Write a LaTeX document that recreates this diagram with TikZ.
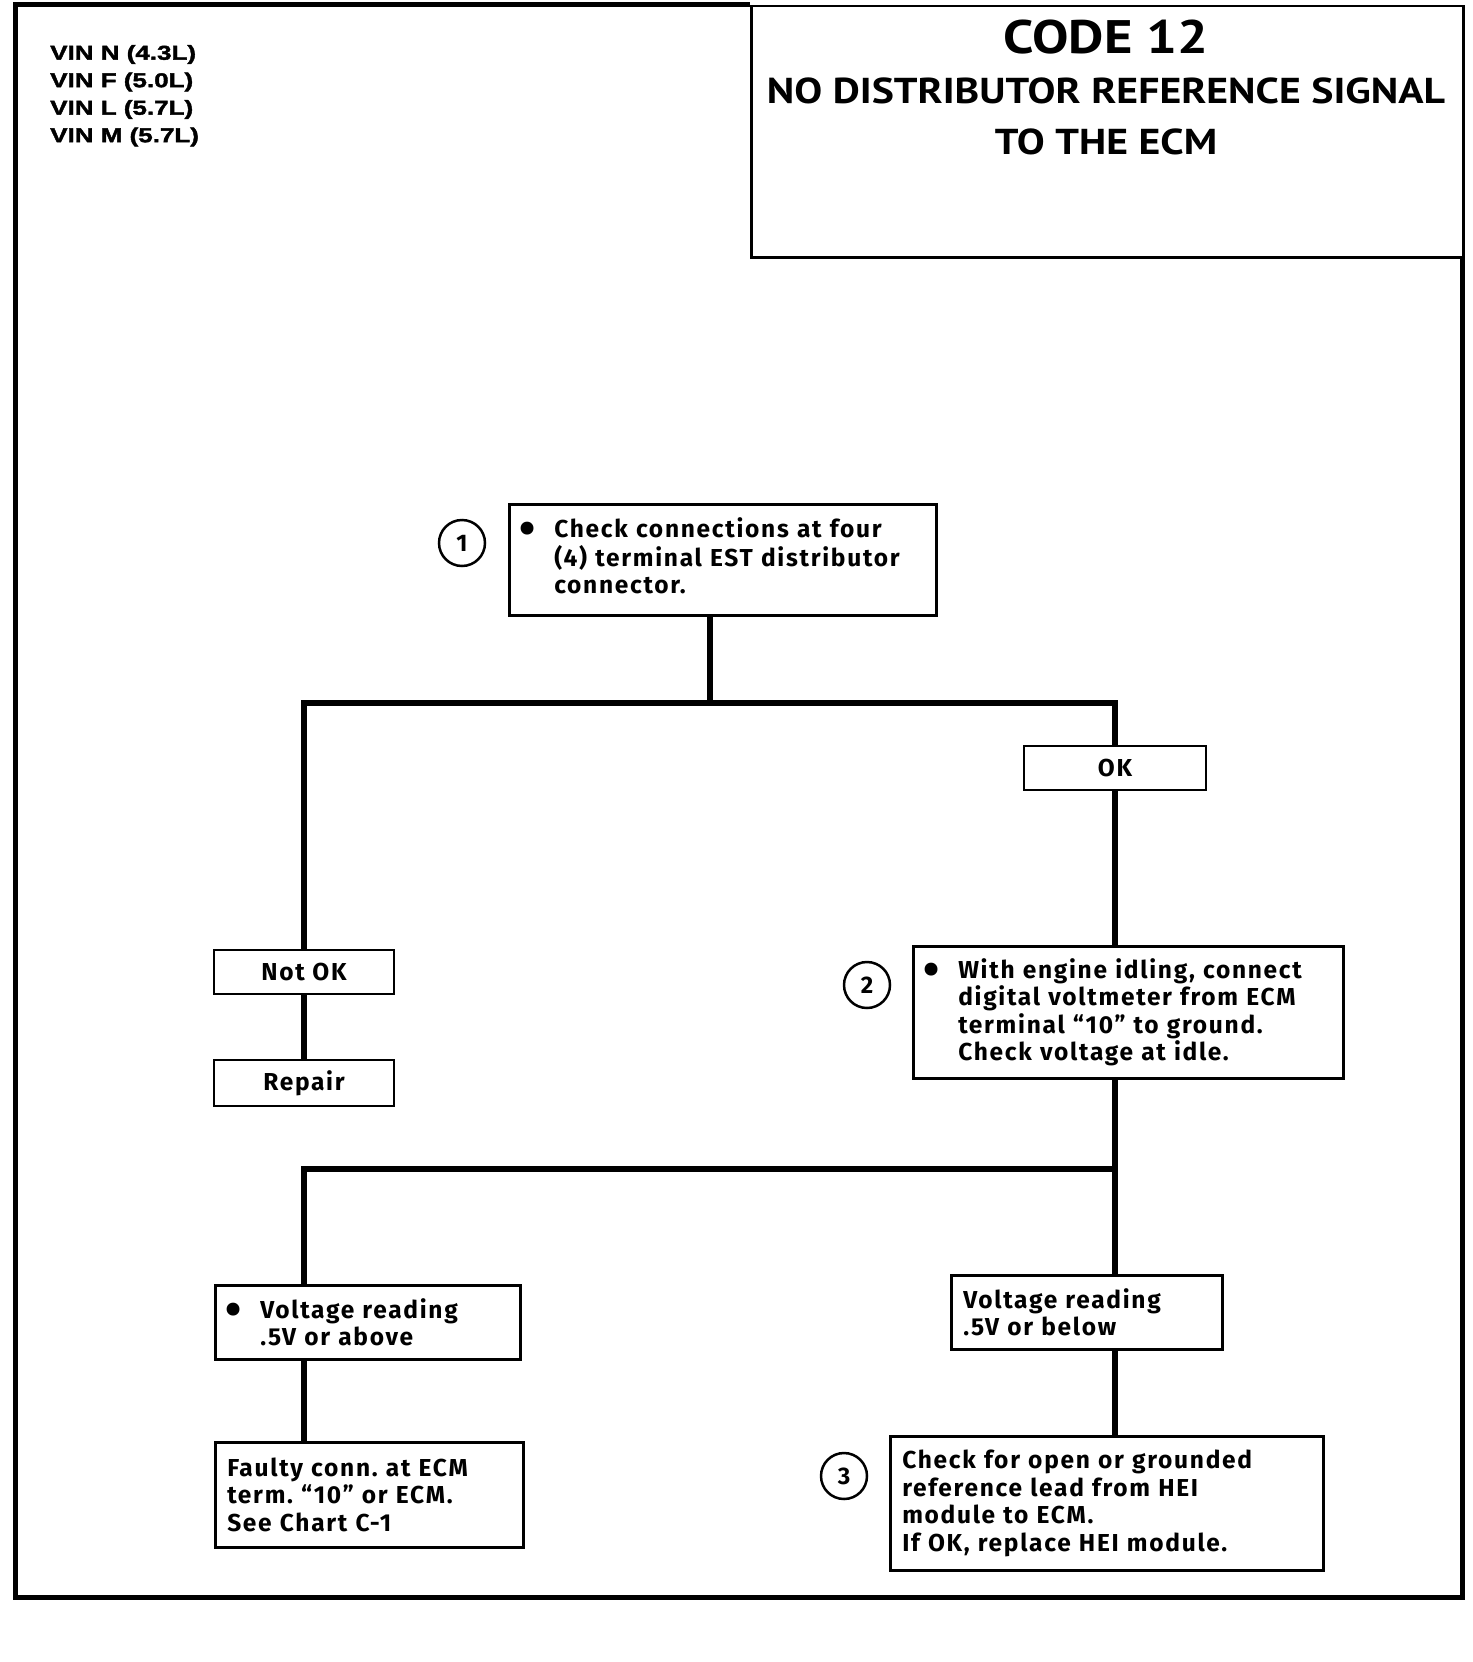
\documentclass[tikz,border=0pt]{standalone}
\usepackage{fontspec}
\usepackage{graphicx}
\setmainfont{Fira Sans}[LetterSpace=7]
\newfontfamily\vinfamily[FakeStretch=1.3,FakeBold=2]{Liberation Sans Bold}
\newfontfamily\headfamily[FakeStretch=1.16]{PT Sans}
\usetikzlibrary{positioning}
\frenchspacing

\newcommand{\boxfont}{\bfseries\fontsize{24.5}{27.5}\selectfont}
\newcommand{\numfont}{\bfseries\fontsize{24}{24}\selectfont}
\newcommand{\vinfont}{\vinfamily\fontsize{20}{27.5}\selectfont}
\newcommand{\bul}{\makebox[33pt][l]{\hspace*{-2pt}\raisebox{-7pt}{\scalebox{1.9}{\textbullet}}}}
\newcommand{\ind}{\hspace*{33pt}}

\begin{document}
\begin{tikzpicture}[x=1pt,y=-1pt,
  chk/.style={draw, line width=2.5pt, anchor=north west, inner xsep=12pt, inner ysep=0pt, align=left, font=\boxfont},
  tag/.style={draw, line width=2.5pt, minimum width=180pt, minimum height=44pt, inner sep=0pt, font=\boxfont},
  num/.style={circle, draw, line width=2.5pt, minimum size=46pt, inner sep=0pt, font=\numfont},
  link/.style={line width=6.5pt}]

\useasboundingbox (0,0) rectangle (1472,1662);

% frame and title
\draw[line width=5pt] (750,5) -- (15,5) -- (15,1597) -- (1462,1597) -- (1462,256);
\node[draw, line width=2.5pt, anchor=north west, minimum width=712pt, minimum height=251pt, inner sep=0pt] (titlebox) at (750,5) {};
\node[font=\headfamily\bfseries\fontsize{47}{50}\selectfont] (code) at (1106,37) {CODE 12};
\node[font=\headfamily\bfseries\fontsize{36}{40}\selectfont] (head) at (1106,91) {NO DISTRIBUTOR REFERENCE SIGNAL};
\node[font=\headfamily\bfseries\fontsize{36}{40}\selectfont] (ecm) at (1106,142) {TO THE ECM};
\node[anchor=north west, align=left, inner sep=0pt, font=\vinfont] (vin) at (50,45) {VIN N (4.3L)\\VIN F (5.0L)\\VIN L (5.7L)\\VIN M (5.7L)};

% steps
\node[num] (n1) at (462,543) {1};
\node[chk, text width=403pt, minimum height=111pt] (check) at (508,503) {\bul Check connections at four\\\ind(4) terminal EST distributor\\\ind connector.\strut};
\node[tag, minimum width=182pt] (ok) at (1115,768) {OK};
\node[tag] (notok) at (304,972) {Not OK};
\node[tag, minimum height=46pt] (repair) at (304,1083) {Repair};
\node[num] (n2) at (867,985) {2};
\node[chk, text width=406pt, minimum height=132pt] (idle) at (912,945) {\bul With engine idling, connect\\\ind digital voltmeter from ECM\\\ind terminal “10” to ground.\\\ind Check voltage at idle.};
\node[chk, text width=281pt, minimum height=74pt] (above) at (214,1284) {\bul Voltage reading\\\ind .5V or above};
\node[chk, text width=284pt, minimum height=105pt] (faulty) at (214,1441) {Faulty conn. at ECM\\term. “10” or ECM.\\See Chart C-1};
\node[chk, text width=247pt, minimum height=74pt] (below) at (950,1274) {Voltage reading\\.5V or below};
\node[num] (n3) at (844,1476) {3};
\node[chk, text width=409pt, minimum height=134pt] (hei) at (889,1435) {Check for open or grounded\\reference lead from HEI\\module to ECM.\\If OK, replace HEI module.};

% connectors
\coordinate (split1) at (710,703);
\coordinate (split2) at (1115,1169);
\coordinate (split3) at (304,1169);
\draw[link] (check.south -| split1) -- (split1);
\draw[link] (notok.north) |- (split1) -| (ok.north);
\draw[link] (notok.south) -- (repair.north);
\draw[link] (ok.south) -- (idle.north -| ok);
\draw[link] (idle.south -| split2) -- (split2) -- (below.north -| split2);
\draw[link] (split2) -- (split3) -- (above.north -| split3);
\draw[link] (above.south -| split3) -- (faulty.north -| split3);
\draw[link] (below.south -| split2) -- (hei.north -| split2);
\end{tikzpicture}
\end{document}
